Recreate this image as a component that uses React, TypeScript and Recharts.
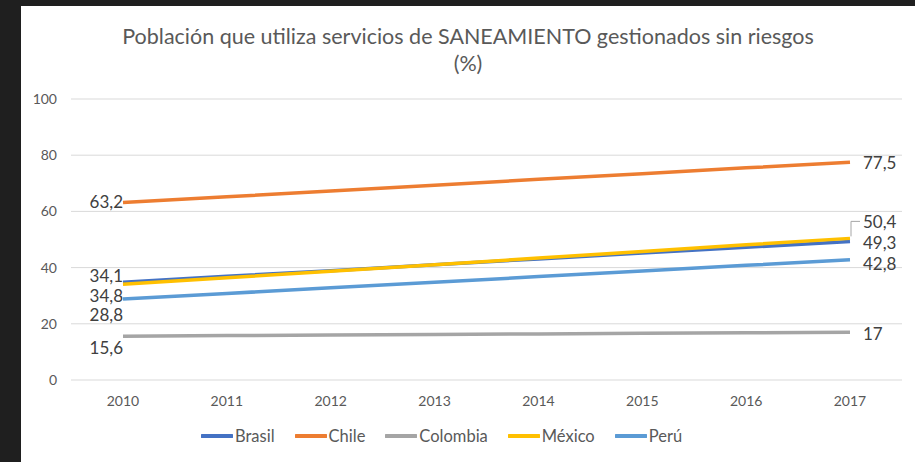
import React from 'react';
import { LineChart, Line, XAxis, YAxis, CartesianGrid, Legend, LabelList } from 'recharts';

const years = ['2010', '2011', '2012', '2013', '2014', '2015', '2016', '2017'];
const brasil = [34.8, 36.9, 38.9, 41.0, 43.1, 45.2, 47.2, 49.3];
const chile = [63.2, 65.2, 67.3, 69.3, 71.4, 73.4, 75.5, 77.5];
const colombia = [15.6, 15.8, 16.0, 16.2, 16.4, 16.6, 16.8, 17];
const mexico = [34.1, 36.4, 38.7, 41.0, 43.4, 45.7, 48.1, 50.4];
const peru = [28.8, 30.8, 32.8, 34.8, 36.8, 38.8, 40.8, 42.8];
const yTicks = [0, 20, 40, 60, 80, 100];

const data = years.map((year, i) => ({
  year,
  Brasil: brasil[i],
  Chile: chile[i],
  Colombia: colombia[i],
  'México': mexico[i],
  'Perú': peru[i],
}));

const FONT = 'Lato, "Open Sans", sans-serif';
const fmt = (v: number) => String(v).replace('.', ',');

// label nudges (first point / last point), like Excel's collision avoidance
const makeLabel = (firstDy: number, lastDy: number, leader = false) => (props: any) => {
  const { x, y, value, index } = props;
  if (index === 0) {
    return (
      <text x={x} y={y + firstDy} textAnchor="end" dominantBaseline="central"
        fontSize={17} fill="#404040" fontFamily={FONT}>{fmt(value)}</text>
    );
  }
  if (index === years.length - 1) {
    return (
      <g>
        {leader && (
          <polyline points={`${x + 1},${y - 2} ${x + 1},${y + lastDy} ${x + 10},${y + lastDy}`}
            fill="none" stroke="#a6a6a6" strokeWidth={1} />
        )}
        <text x={x + 13} y={y + lastDy} textAnchor="start" dominantBaseline="central"
          fontSize={17} fill="#404040" fontFamily={FONT}>{fmt(value)}</text>
      </g>
    );
  }
  return null;
};

const series = [
  { key: 'Brasil', color: '#4472c4', first: 13, last: 1 },
  { key: 'Chile', color: '#ed7d31', first: -1, last: 0 },
  { key: 'Colombia', color: '#a5a5a5', first: 11, last: 1 },
  { key: 'México', color: '#ffc000', first: -9, last: -17, leader: true },
  { key: 'Perú', color: '#5b9bd5', first: 15, last: 4 },
];

const renderLegend = (props: any) => {
  const { payload } = props;
  return (
    <div style={{ display: 'flex', justifyContent: 'flex-start', paddingLeft: 170, fontFamily: FONT, fontSize: 16.5, color: '#595959' }}>
      {payload.map((p: any) => (
        <div key={p.value} style={{ display: 'flex', alignItems: 'center', margin: '0 10px' }}>
          <svg width={32} height={6} style={{ marginRight: 2 }}>
            <line x1={1} y1={3} x2={31} y2={3} stroke={p.color} strokeWidth={4} strokeLinecap="round" />
          </svg>
          <span>{p.value}</span>
        </div>
      ))}
    </div>
  );
};

export default function App() {
  return (
    <div style={{ position: 'absolute', left: 0, top: 0, width: 915, height: 462, background: '#1f1f1f' }}>
      <div style={{ position: 'absolute', left: 21, top: 6, width: 894, height: 456, background: '#ffffff' }}>
        <div style={{
          position: 'absolute', left: 0, top: 17, width: 894, textAlign: 'center',
          fontFamily: FONT, fontSize: 21.5, color: '#595959', lineHeight: '27px',
        }}>
          Población que utiliza servicios de SANEAMIENTO gestionados sin riesgos<br />(%)
        </div>
        <LineChart width={894} height={456} data={data}
          margin={{ top: 93, right: 13, left: 0, bottom: 32 }}>
          <CartesianGrid vertical={false} stroke="#d9d9d9" strokeWidth={1} />
          <XAxis dataKey="year" axisLine={false} tickLine={false} height={30} tickMargin={10}
            padding={{ left: 52, right: 52 }}
            tick={{ fill: '#595959', fontSize: 14, fontFamily: FONT }} />
          <YAxis domain={[0, 100]} ticks={yTicks} axisLine={false} tickLine={false} width={50}
            tickMargin={8} tick={{ fill: '#595959', fontSize: 14, fontFamily: FONT }} />
          <Legend verticalAlign="bottom" content={renderLegend}
            wrapperStyle={{ top: 420, left: 0, width: 894 }} />
          {series.map((s) => (
            <Line key={s.key} type="linear" dataKey={s.key} stroke={s.color} strokeWidth={3.5}
              dot={false} activeDot={false} isAnimationActive={false}>
              <LabelList dataKey={s.key} content={makeLabel(s.first, s.last, s.leader)} />
            </Line>
          ))}
        </LineChart>
      </div>
    </div>
  );
}
